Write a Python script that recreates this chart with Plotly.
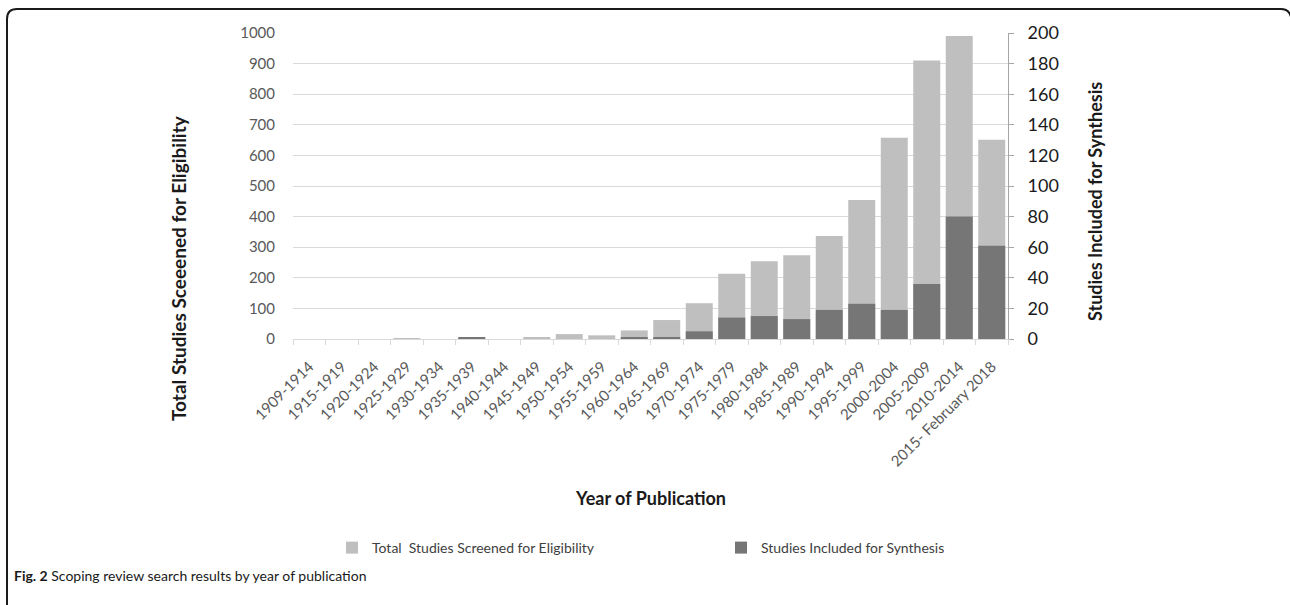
import plotly.graph_objects as go

# Publication periods (x categories)
periods = [
    "1909-1914", "1915-1919", "1920-1924", "1925-1929", "1930-1934", "1935-1939",
    "1940-1944", "1945-1949", "1950-1954", "1955-1959", "1960-1964", "1965-1969",
    "1970-1974", "1975-1979", "1980-1984", "1985-1989", "1990-1994", "1995-1999",
    "2000-2004", "2005-2009", "2010-2014", "2015- February 2018",
]

# Studies screened (left axis) and studies included (right axis)
screened = [0, 0, 0, 3, 0, 3, 0, 6, 16, 12, 28, 62, 117, 213, 254, 274, 337, 454, 658, 910, 990, 651]
included = [0, 0, 0, 0, 0, 1, 0, 0, 0, 0, 1, 1, 5, 14, 15, 13, 19, 23, 19, 36, 80, 61]

left_ticks = list(range(0, 1001, 100))
right_ticks = list(range(0, 201, 20))

W, H = 1290, 605
ML, MR, MT, MB = 293, 282, 33, 266
PW, PH = W - ML - MR, H - MT - MB

FONT = "Lato"
LIGHT = "#bfbfbf"
DARK = "#767676"
INK = "#1a1a1a"


def px(x):
    return (x - ML) / PW


def py(y):
    return (H - MB - y) / PH


fig = go.Figure()
fig.add_trace(go.Bar(
    x=periods, y=screened, name="Total\u00a0 Studies Screened for Eligibility",
    marker=dict(color=LIGHT, line=dict(width=0)), yaxis="y",
    legend="legend", showlegend=True,
))
fig.add_trace(go.Bar(
    x=periods, y=included, name="Studies Included for Synthesis",
    marker=dict(color=DARK, line=dict(width=0)), yaxis="y2",
    legend="legend2", showlegend=True,
))

# Rounded frame around the figure (left and top edges)
frame = (
    f"M {px(7)},{py(610)} L {px(7)},{py(19)} "
    f"Q {px(7)},{py(9)} {px(17)},{py(9)} "
    f"L {px(1281)},{py(9)} "
    f"Q {px(1289)},{py(9)} {px(1291)},{py(17)}"
)

legend_style = dict(
    orientation="h", xanchor="left", yanchor="middle", y=py(548),
    font=dict(family=FONT, size=14, color="#404040"),
    itemwidth=30, bgcolor="rgba(0,0,0,0)", borderwidth=0,
)

fig.update_layout(
    width=W, height=H,
    margin=dict(l=ML, r=MR, t=MT, b=MB),
    paper_bgcolor="white", plot_bgcolor="white",
    barmode="overlay", bargap=0.17, showlegend=True,
    font=dict(family=FONT, size=14, color="#595959"),
    xaxis=dict(
        type="category", tickangle=-45, tickson="boundaries",
        ticks="outside", ticklen=5, tickcolor="#d9d9d9", tickwidth=1,
        showline=True, linecolor="#d9d9d9", linewidth=1,
        showgrid=False, ticklabelstandoff=12,
        tickfont=dict(family=FONT, size=15, color="#595959"),
    ),
    yaxis=dict(
        range=[0, 1000], tickvals=left_ticks, showgrid=True,
        gridcolor="#d9d9d9", gridwidth=1, zeroline=False,
        showline=False, ticks="", ticklabelstandoff=17,
        tickfont=dict(family=FONT, size=15, color="#595959"),
    ),
    yaxis2=dict(
        range=[0, 200], tickvals=right_ticks, overlaying="y", side="right",
        showgrid=False, zeroline=False, showline=True,
        linecolor="#a6a6a6", linewidth=1, ticks="outside", ticklen=5,
        tickcolor="#a6a6a6", ticklabelstandoff=10,
        tickfont=dict(family=FONT, size=18, color=INK),
    ),
    legend=dict(legend_style, x=px(332)),
    legend2=dict(legend_style, x=px(721)),
    shapes=[dict(
        type="path", xref="paper", yref="paper", path=frame,
        line=dict(color=INK, width=2),
    )],
    annotations=[
        dict(text="<b>Total Studies Sceeened for Eligibility</b>", x=px(178), y=py(268),
             xref="paper", yref="paper", showarrow=False, textangle=-90,
             xanchor="center", yanchor="middle",
             font=dict(family=FONT, size=19, color=INK)),
        dict(text="<b>Studies Included for Synthesis</b>", x=px(1095), y=py(202),
             xref="paper", yref="paper", showarrow=False, textangle=-90,
             xanchor="center", yanchor="middle",
             font=dict(family=FONT, size=18, color=INK)),
        dict(text="<b>Year of Publication</b>", x=px(650), y=py(498),
             xref="paper", yref="paper", showarrow=False,
             xanchor="center", yanchor="middle",
             font=dict(family=FONT, size=18, color=INK)),
        dict(text="<b>Fig. 2</b> Scoping review search results by year of publication",
             x=px(12), y=py(575), xref="paper", yref="paper", showarrow=False,
             xanchor="left", yanchor="middle",
             font=dict(family=FONT, size=14, color=INK)),
    ],
)

fig.write_html("out.html")
